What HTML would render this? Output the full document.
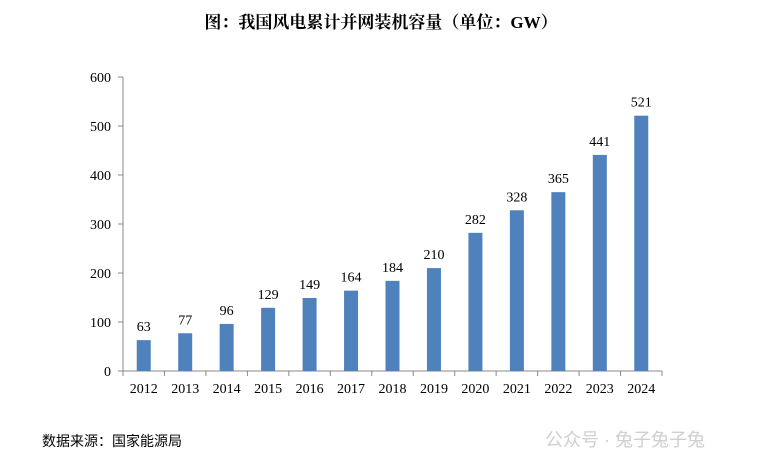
<!DOCTYPE html>
<html><head><meta charset="utf-8"><style>
body{margin:0;background:#fff;width:763px;height:470px;overflow:hidden}
svg text{font-family:"Liberation Serif","Noto Serif CJK SC",serif}
</style></head><body>
<svg id="chart" width="763" height="470" xmlns="http://www.w3.org/2000/svg" font-family="Liberation Serif, Noto Serif CJK SC, serif">
<text x="381" y="28" text-anchor="middle" font-size="17" font-weight="bold">图：我国风电累计并网装机容量（单位：GW）</text>
<text x="42" y="446" font-size="14" style="font-family:'Liberation Sans','Noto Sans CJK SC',sans-serif">数据来源：国家能源局</text>
<text x="545" y="446" font-size="18" fill="#cfcfcf" style="font-family:'Liberation Sans','Noto Sans CJK SC',sans-serif">公众号 · 兔子兔子兔</text>
<g id="plot"></g>
</svg>
<script>
const categories=["2012","2013","2014","2015","2016","2017","2018","2019","2020","2021","2022","2023","2024"];
const values=[63,77,96,129,149,164,184,210,282,328,365,441,521];
const yTicks=[0,100,200,300,400,500,600];
const NS="http://www.w3.org/2000/svg";
const g=document.getElementById('plot');
const x0=123,x1=662,y0=371,y600=77;
const bw=(x1-x0)/categories.length;
const y=v=>y0-(v/600)*(y0-y600);
const xc=i=>x0+bw*(i+0.5);
function mk(t,a){const e=document.createElementNS(NS,t);for(const k in a)e.setAttribute(k,a[k]);g.appendChild(e);return e;}
const F='Liberation Serif, serif';
let ax=mk('line',{x1:x0,y1:y600,x2:x0,y2:y0,stroke:'#888','stroke-width':1});


let bx=mk('line',{x1:x0,y1:y0,x2:x1,y2:y0,stroke:'#888','stroke-width':1});


yTicks.forEach(v=>{
 let t=mk('line',{x1:x0-5,y1:y(v),x2:x0,y2:y(v),stroke:'#888'});
 
 
 let l=mk('text',{x:x0-12,y:y(v)+5,'text-anchor':'end','font-size':14,'font-family':F});
 l.textContent=v;
 
 
});
for(let i=0;i<=categories.length;i++){
 let t=mk('line',{x1:x0+bw*i,y1:y0,x2:x0+bw*i,y2:y0+5,stroke:'#888'});
 
 
}
categories.forEach((c,i)=>{
 const v=values[i];
 let r=mk('rect',{x:xc(i)-7,y:y(v),width:14,height:y0-y(v),fill:'#4f81bd'});
 
 
 let vl=mk('text',{x:xc(i),y:y(v)-9,'text-anchor':'middle','font-size':14,'font-family':F});
 vl.textContent=v;
 
 
 let xl=mk('text',{x:xc(i),y:y0+22,'text-anchor':'middle','font-size':14,'font-family':F});
 xl.textContent=c;
 
 
});
</script>
</body></html>
